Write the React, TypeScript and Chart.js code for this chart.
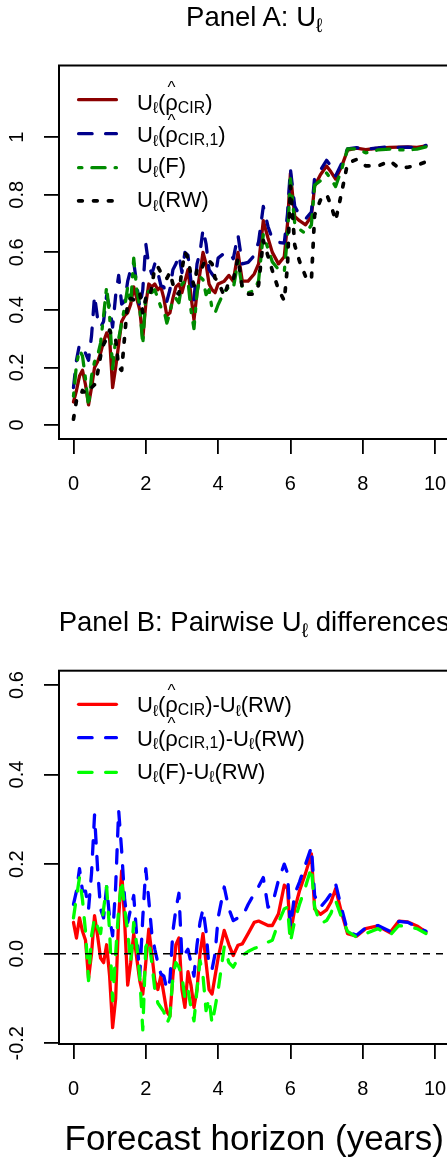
import React, { useEffect, useRef } from "react";
import { Chart, registerables } from "chart.js";

Chart.register(...registerables);

const FONT = '"Liberation Sans", Arial, Helvetica, sans-serif';

// Forecast horizons (years)
const horizons = [
  0, 0.083, 0.167, 0.25, 0.333, 0.417, 0.5, 0.583, 0.667, 0.75, 0.833, 0.917,
  1, 1.083, 1.167, 1.25, 1.333, 1.417, 1.5, 1.583, 1.667, 1.75, 1.833, 1.917,
  2, 2.083, 2.167, 2.25, 2.333, 2.417, 2.5, 2.583, 2.667, 2.75, 2.833, 2.917,
  3, 3.083, 3.167, 3.25, 3.333, 3.417, 3.5, 3.583, 3.667, 3.75, 3.833, 3.917,
  4, 4.17, 4.3, 4.42, 4.55, 4.67, 4.83, 5.0, 5.12, 5.25, 5.38, 5.5, 5.67, 5.83,
  5.92, 6.0, 6.12, 6.25, 6.42, 6.58, 6.67, 6.83, 7.0, 7.12, 7.25, 7.42, 7.58,
  7.83, 8.08, 8.42, 8.75, 9.0, 9.25, 9.5, 9.75,
];

// Panel A: U_l for each forecaster
const uCir = [
  0.08, 0.12, 0.17, 0.19, 0.14, 0.07, 0.13, 0.2, 0.22, 0.25, 0.29, 0.32,
  0.3, 0.13, 0.2, 0.28, 0.36, 0.38, 0.39, 0.42, 0.48, 0.44, 0.4, 0.3,
  0.42, 0.49, 0.48, 0.49, 0.47, 0.48, 0.44, 0.38, 0.39, 0.44, 0.48, 0.49,
  0.46, 0.5, 0.54, 0.45, 0.365, 0.46, 0.53, 0.6, 0.56, 0.49, 0.47, 0.46,
  0.49, 0.5, 0.52, 0.5, 0.6, 0.5, 0.5, 0.525, 0.56, 0.71, 0.65, 0.6, 0.56, 0.585,
  0.7, 0.875, 0.725, 0.71, 0.696, 0.725, 0.83, 0.87, 0.9, 0.88, 0.855, 0.9, 0.955,
  0.962, 0.957, 0.962, 0.965, 0.966, 0.967, 0.965, 0.97,
];
const uCir1 = [
  0.13, 0.225, 0.28, 0.26, 0.25, 0.225, 0.31, 0.45, 0.37, 0.34, 0.36, 0.45,
  0.41, 0.34, 0.45, 0.52, 0.42, 0.43, 0.5, 0.54, 0.565, 0.49, 0.41, 0.47,
  0.63, 0.555, 0.525, 0.56, 0.53, 0.485, 0.48, 0.43, 0.47, 0.54, 0.56, 0.59,
  0.53, 0.6, 0.59, 0.5, 0.435, 0.56, 0.6, 0.68, 0.63, 0.54, 0.525, 0.51,
  0.58, 0.597, 0.6, 0.578, 0.66, 0.56, 0.565, 0.589, 0.637, 0.76, 0.69, 0.647, 0.635, 0.632,
  0.734, 0.89, 0.76, 0.73, 0.716, 0.74, 0.86, 0.886, 0.92, 0.9, 0.866, 0.91, 0.96,
  0.964, 0.959, 0.963, 0.968, 0.965, 0.966, 0.963, 0.972,
];
const uF = [
  0.1, 0.21, 0.26, 0.24, 0.16, 0.065, 0.17, 0.22, 0.24, 0.285, 0.38, 0.48,
  0.38, 0.195, 0.3, 0.3, 0.355, 0.41, 0.48, 0.42, 0.58, 0.47, 0.41, 0.28,
  0.455, 0.465, 0.46, 0.47, 0.44, 0.41, 0.4, 0.354, 0.39, 0.44, 0.44, 0.425,
  0.49, 0.5, 0.5, 0.4, 0.335, 0.46, 0.515, 0.505, 0.453, 0.47, 0.404, 0.39,
  0.418, 0.463, 0.48, 0.474, 0.57, 0.474, 0.46, 0.467, 0.502, 0.662, 0.613, 0.567, 0.541, 0.532,
  0.658, 0.856, 0.7, 0.68, 0.666, 0.695, 0.834, 0.849, 0.876, 0.855, 0.829, 0.89, 0.96,
  0.96, 0.946, 0.956, 0.959, 0.956, 0.956, 0.959, 0.967,
];
const uRw = [
  0.02, 0.085, 0.09, 0.12, 0.11, 0.125, 0.13, 0.14, 0.18, 0.24, 0.28, 0.3,
  0.33, 0.3, 0.3, 0.2, 0.19, 0.31, 0.43, 0.44, 0.435, 0.45, 0.46, 0.39,
  0.44, 0.435, 0.48, 0.55, 0.55, 0.53, 0.53, 0.51, 0.53, 0.49, 0.46, 0.455,
  0.54, 0.6, 0.58, 0.52, 0.485, 0.54, 0.53, 0.555, 0.58, 0.57, 0.56, 0.51,
  0.5, 0.448, 0.5, 0.504, 0.58, 0.478, 0.455, 0.455, 0.487, 0.642, 0.587, 0.537, 0.471, 0.432,
  0.554, 0.83, 0.625, 0.57, 0.516, 0.502, 0.73, 0.782, 0.802, 0.765, 0.71, 0.81, 0.91,
  0.923, 0.901, 0.9, 0.918, 0.893, 0.896, 0.903, 0.915,
];

// Panel B: differences against the random walk
const dCir = [
  0.07, 0.035, 0.08, 0.05, 0.03, -0.055, 0.0, 0.085, 0.04, -0.01, -0.02, 0.02,
  -0.05, -0.165, -0.1, 0.08, 0.185, 0.07, -0.07, -0.02, 0.045, -0.01, -0.06, -0.09,
  -0.02, 0.055, 0.0, -0.06, -0.08, -0.05, -0.09, -0.13, -0.14, -0.05, 0.02, 0.035,
  -0.08, -0.12, -0.04, -0.07, -0.12, -0.08, 0.0, 0.045, -0.02, -0.08, -0.09, -0.05,
  -0.01, 0.052, 0.02, -0.004, 0.019, 0.022, 0.045, 0.07, 0.073, 0.068, 0.063, 0.063, 0.089, 0.153,
  0.146, 0.045, 0.1, 0.14, 0.18, 0.223, 0.1, 0.088, 0.098, 0.115, 0.145, 0.09, 0.045,
  0.039, 0.056, 0.062, 0.047, 0.073, 0.071, 0.062, 0.048,
];
const dCir1 = [
  0.11, 0.14, 0.19, 0.14, 0.14, 0.1, 0.18, 0.31, 0.19, 0.1, 0.08, 0.15,
  0.08, 0.04, 0.15, 0.32, 0.23, 0.12, 0.07, 0.1, 0.13, 0.04, -0.05, 0.08,
  0.19, 0.12, 0.045, 0.01, -0.02, -0.045, -0.05, -0.08, -0.06, 0.05, 0.1, 0.135,
  -0.01, 0.0, 0.01, -0.02, -0.05, 0.02, 0.07, 0.1, 0.05, -0.03, -0.035, 0.0,
  0.08, 0.149, 0.1, 0.074, 0.08, 0.082, 0.11, 0.134, 0.15, 0.17, 0.104, 0.11, 0.164, 0.2,
  0.18, 0.06, 0.134, 0.16, 0.2, 0.238, 0.13, 0.104, 0.12, 0.134, 0.156, 0.1, 0.05,
  0.041, 0.058, 0.063, 0.05, 0.072, 0.07, 0.06, 0.05,
];
const dF = [
  0.08, 0.126, 0.17, 0.12, 0.05, -0.06, 0.04, 0.08, 0.06, 0.045, 0.1, 0.15,
  0.05, -0.105, 0.0, 0.1, 0.165, 0.1, 0.05, -0.02, 0.07, 0.02, -0.05, -0.17,
  0.015, 0.03, -0.02, -0.08, -0.11, -0.12, -0.13, -0.156, -0.14, -0.05, -0.02, -0.03,
  -0.05, -0.1, -0.08, -0.12, -0.15, -0.08, -0.015, -0.05, -0.127, -0.1, -0.156, -0.12,
  -0.082, 0.015, -0.02, -0.03, -0.01, -0.004, 0.005, 0.012, 0.015, 0.02, 0.026, 0.03, 0.07, 0.1,
  0.104, 0.026, 0.074, 0.11, 0.15, 0.193, 0.104, 0.067, 0.074, 0.09, 0.119, 0.08, 0.05,
  0.037, 0.045, 0.056, 0.041, 0.063, 0.06, 0.056, 0.045,
];

// Axis ticks
const xTickValues = [0, 2, 4, 6, 8, 10];
const xTickLabels = ["0", "2", "4", "6", "8", "10"];
const aTickValues = [0, 0.2, 0.4, 0.6, 0.8, 1];
const aTickLabels = ["0", "0.2", "0.4", "0.6", "0.8", "1"];
const bTickValues = [-0.2, 0, 0.2, 0.4, 0.6];
const bTickLabels = ["-0.2", "0.0", "0.2", "0.4", "0.6"];

type LineStyle = { color: string; width: number; dash: number[] };

const stylesA: LineStyle[] = [
  { color: "#8B0000", width: 3.3, dash: [] },
  { color: "#00008B", width: 3.3, dash: [13.5, 13.5] },
  { color: "#008B00", width: 3.3, dash: [3.3, 10, 13.2, 10] },
  { color: "#000000", width: 3.7, dash: [3.7, 11.2] },
];
const stylesB: LineStyle[] = [
  { color: "#FF0000", width: 3.3, dash: [] },
  { color: "#0000FF", width: 3.3, dash: [13.5, 13.5] },
  { color: "#00FF00", width: 3.3, dash: [13.5, 13.5] },
];

const CANVAS_W = 470;
const PLOT_LEFT = 59;
const PLOT_RIGHT = 449.5;

type PanelSpec = {
  canvasH: number;
  plotTop: number;
  plotBottom: number;
  yMin: number;
  yMax: number;
  yTicks: number[];
  yLabels: string[];
  series: number[][];
  styles: LineStyle[];
  legendYs: number[];
  zeroLine: boolean;
};

const panelA: PanelSpec = {
  canvasH: 580,
  plotTop: 65.5,
  plotBottom: 439,
  yMin: -0.0487,
  yMax: 1.2496,
  yTicks: aTickValues,
  yLabels: aTickLabels,
  series: [uCir, uCir1, uF, uRw],
  styles: stylesA,
  legendYs: [99.7, 133.7, 167.7, 200.8],
  zeroLine: false,
};

const panelB: PanelSpec = {
  canvasH: 579,
  plotTop: 90.7,
  plotBottom: 464,
  yMin: -0.2016,
  yMax: 0.632,
  yTicks: bTickValues,
  yLabels: bTickLabels,
  series: [dCir, dCir1, dF],
  styles: stylesB,
  legendYs: [124.3, 157.7, 192.3],
  zeroLine: true,
};

function decorPlugin(spec: PanelSpec) {
  return {
    id: "panelDecor",
    afterDatasetsDraw(chart: any) {
      if (!spec.zeroLine) return;
      const { ctx, chartArea: ca, scales } = chart;
      const y0 = scales.y.getPixelForValue(0);
      ctx.save();
      ctx.strokeStyle = "#000";
      ctx.lineWidth = 1.5;
      ctx.setLineDash([7, 6]);
      ctx.beginPath();
      ctx.moveTo(ca.left, y0);
      ctx.lineTo(ca.right, y0);
      ctx.stroke();
      ctx.restore();
    },
    afterDraw(chart: any) {
      const { ctx, chartArea: ca, scales } = chart;
      ctx.save();
      // plot frame
      ctx.setLineDash([]);
      ctx.strokeStyle = "#000";
      ctx.lineWidth = 2;
      ctx.strokeRect(ca.left, ca.top, ca.right - ca.left, ca.bottom - ca.top);

      // tick labels
      ctx.fillStyle = "#000";
      ctx.font = `20px ${FONT}`;
      ctx.textAlign = "center";
      ctx.textBaseline = "alphabetic";
      scales.y.ticks.forEach((t: any, i: number) => {
        const py = scales.y.getPixelForValue(t.value);
        ctx.save();
        ctx.translate(22.5, py);
        ctx.rotate(-Math.PI / 2);
        ctx.fillText(spec.yLabels[i], 0, 0);
        ctx.restore();
      });
      scales.x.ticks.forEach((t: any, i: number) => {
        const px = scales.x.getPixelForValue(t.value);
        ctx.fillText(xTickLabels[i], px, ca.bottom + 51);
      });

      // legend keys
      spec.styles.forEach((s, i) => {
        const y = spec.legendYs[i];
        ctx.beginPath();
        ctx.strokeStyle = s.color;
        ctx.lineWidth = s.width;
        ctx.lineCap = "round";
        ctx.setLineDash(s.dash);
        ctx.moveTo(78.6, y);
        ctx.lineTo(116.4, y);
        ctx.stroke();
      });
      ctx.restore();
    },
  };
}

function buildPanel(canvas: HTMLCanvasElement, spec: PanelSpec) {
  const datasets = spec.series.map((ys, i) => ({
    data: horizons.map((x, j) => ({ x, y: ys[j] })),
    borderColor: spec.styles[i].color,
    borderWidth: spec.styles[i].width,
    borderDash: spec.styles[i].dash,
    borderCapStyle: "round" as const,
    borderJoinStyle: "round" as const,
    pointRadius: 0,
    tension: 0,
    fill: false,
    order: spec.series.length - i,
  }));
  const tickGrid = {
    display: true,
    drawOnChartArea: false,
    drawTicks: true,
    tickLength: 15,
    color: "#000",
    lineWidth: 1.8,
  };
  return new Chart(canvas, {
    type: "line",
    data: { datasets },
    options: {
      responsive: false,
      animation: false,
      devicePixelRatio: 1,
      events: [],
      layout: {
        padding: {
          left: 0,
          top: spec.plotTop,
          right: CANVAS_W - PLOT_RIGHT,
          bottom: 0,
        },
      },
      plugins: {
        legend: { display: false },
        title: { display: false },
        tooltip: { enabled: false },
      },
      scales: {
        x: {
          type: "linear",
          min: -0.4,
          max: 10.4,
          bounds: "data",
          grid: tickGrid,
          border: { display: false },
          ticks: { display: false },
          afterBuildTicks: (scale: any) => {
            scale.ticks = xTickValues.map((v) => ({ value: v }));
          },
          afterFit: (scale: any) => {
            scale.height = spec.canvasH - spec.plotBottom;
          },
        },
        y: {
          type: "linear",
          min: spec.yMin,
          max: spec.yMax,
          bounds: "data",
          grid: tickGrid,
          border: { display: false },
          ticks: { display: false },
          afterBuildTicks: (scale: any) => {
            scale.ticks = spec.yTicks.map((v) => ({ value: v }));
          },
          afterFit: (scale: any) => {
            scale.width = PLOT_LEFT;
          },
        },
      },
    },
    plugins: [decorPlugin(spec)],
  } as any);
}

// ---- HTML text pieces -------------------------------------------------

const ASC = 0.905;
const LH = 1.117;

function TextLine(props: {
  fs: number;
  baseline: number;
  left?: number;
  width?: number;
  center?: boolean;
  children: React.ReactNode;
}) {
  const { fs, baseline, left = 0, width, center, children } = props;
  return (
    <div
      style={{
        position: "absolute",
        left,
        width,
        top: baseline - ASC * fs,
        fontSize: fs,
        lineHeight: `${LH * fs}px`,
        whiteSpace: "nowrap",
        textAlign: center ? "center" : "left",
      }}
    >
      {children}
    </div>
  );
}

function Sub(props: { fs: number; drop: number; children: React.ReactNode }) {
  return (
    <span
      style={{
        fontSize: props.fs * 0.72,
        position: "relative",
        top: props.fs * props.drop,
        lineHeight: 0,
      }}
    >
      {props.children}
    </span>
  );
}

function Ul(props: { fs: number; drop?: number }) {
  return (
    <>
      U<Sub fs={props.fs} drop={props.drop ?? 0.15}>ℓ</Sub>
    </>
  );
}

function RhoHat(props: { fs: number; sub: string }) {
  const { fs } = props;
  const hs = 17;
  const top = ASC * fs - (28.4 - 0.716 * hs) - ASC * hs;
  return (
    <>
      <span style={{ position: "relative" }}>
        ρ
        <span
          style={{
            position: "absolute",
            left: 0,
            right: 0,
            top,
            textAlign: "center",
            fontSize: hs,
            lineHeight: `${LH * hs}px`,
          }}
        >
          ^
        </span>
      </span>
      <Sub fs={fs} drop={0.12}>
        {props.sub}
      </Sub>
    </>
  );
}

const LEG_FS = 22;
const LEG_X = 137;

export default function App() {
  const refA = useRef<HTMLCanvasElement>(null);
  const refB = useRef<HTMLCanvasElement>(null);

  useEffect(() => {
    const a = buildPanel(refA.current!, panelA);
    const b = buildPanel(refB.current!, panelB);
    return () => {
      a.destroy();
      b.destroy();
    };
  }, []);

  const f = LEG_FS;
  const titleCenterW = (PLOT_LEFT + PLOT_RIGHT);

  return (
    <div
      style={{
        position: "absolute",
        left: 0,
        top: 0,
        width: 447,
        height: 1159,
        overflow: "hidden",
        background: "#fff",
        color: "#000",
        fontFamily: FONT,
      }}
    >
      <canvas
        ref={refA}
        width={CANVAS_W}
        height={panelA.canvasH}
        style={{ position: "absolute", left: 0, top: 0, width: CANVAS_W, height: panelA.canvasH }}
      />
      <canvas
        ref={refB}
        width={CANVAS_W}
        height={panelB.canvasH}
        style={{ position: "absolute", left: 0, top: 580, width: CANVAS_W, height: panelB.canvasH }}
      />

      <TextLine fs={27.5} baseline={26.7} width={titleCenterW} center>
        Panel A: <Ul fs={27.5} drop={0.24} />
      </TextLine>
      <TextLine fs={27.5} baseline={631.7} width={titleCenterW} center>
        Panel B: Pairwise <Ul fs={27.5} drop={0.24} /> differences
      </TextLine>

      <TextLine fs={f} baseline={111} left={LEG_X}>
        <Ul fs={f} />(<RhoHat fs={f} sub="CIR" />)
      </TextLine>
      <TextLine fs={f} baseline={143.3} left={LEG_X}>
        <Ul fs={f} />(<RhoHat fs={f} sub="CIR,1" />)
      </TextLine>
      <TextLine fs={f} baseline={174.3} left={LEG_X}>
        <Ul fs={f} />(F)
      </TextLine>
      <TextLine fs={f} baseline={208.3} left={LEG_X}>
        <Ul fs={f} />(RW)
      </TextLine>

      <TextLine fs={f} baseline={713.3} left={LEG_X}>
        <Ul fs={f} />(<RhoHat fs={f} sub="CIR" />)-<Ul fs={f} />(RW)
      </TextLine>
      <TextLine fs={f} baseline={746.7} left={LEG_X}>
        <Ul fs={f} />(<RhoHat fs={f} sub="CIR,1" />)-<Ul fs={f} />(RW)
      </TextLine>
      <TextLine fs={f} baseline={779.5} left={LEG_X}>
        <Ul fs={f} />(F)-<Ul fs={f} />(RW)
      </TextLine>

      <TextLine fs={35} baseline={1150} width={titleCenterW} center>
        Forecast horizon (years)
      </TextLine>
    </div>
  );
}
